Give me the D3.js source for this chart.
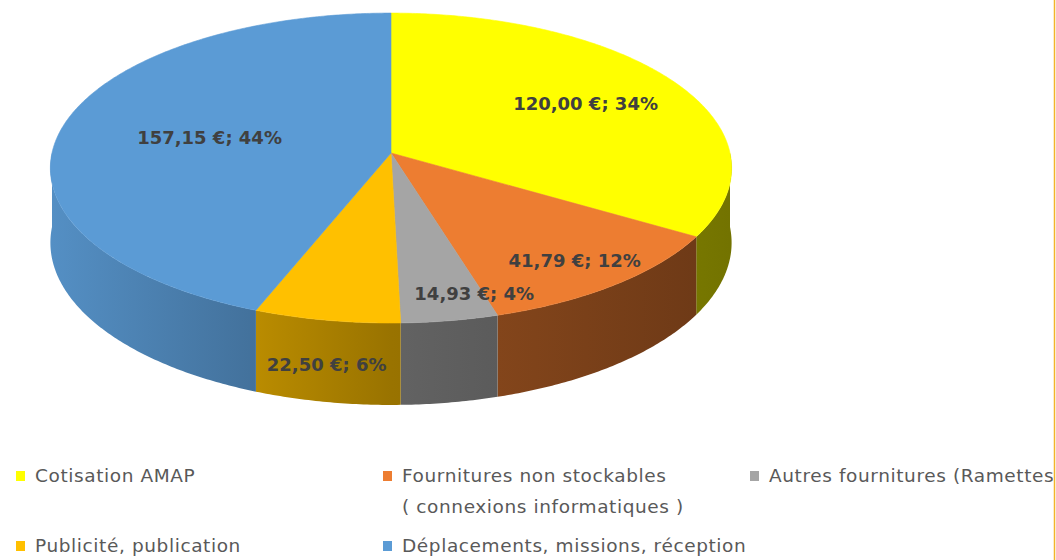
<!DOCTYPE html>
<html>
<head>
<meta charset="utf-8">
<script src="https://cdn.jsdelivr.net/npm/d3@7"></script>
<style>
  html, body { margin: 0; padding: 0; background: #fff; }
  svg { display: block; }
</style>
</head>
<body>
<svg id="chart" width="1056" height="560"></svg>
<script>
// data
const categories = [
  'Cotisation AMAP',
  'Fournitures non stockables\n( connexions informatiques )',
  'Autres fournitures (Ramettes',
  'Publicité, publication',
  'Déplacements, missions, réception'
];
const values = [120.00, 41.79, 14.93, 22.50, 157.15];

// look
const topColors = ['#ffff00', '#ed7d31', '#a5a5a5', '#ffc000', '#5b9bd5'];

// where excel put each label: radius fraction, angle nudge (deg), drop onto the side
const labelPlace = [
  { r: 0.68, da: 0, z: 0 },
  { r: 0.83, da: 0, z: 0 },
  { r: 0.87, da: -6, z: 0 },
  { r: 1.0, da: 0, z: 0.55 },
  { r: 0.55, da: 0, z: 0 }
];

const W = 1056, H = 560;
const cx = 391, cy = 153, rx = 339, ry = 153.5, k = 0.097, depth = 74;

const svg = d3.select('#chart');
const defs = svg.append('defs');

const fr = d3.formatLocale({ decimal: ',', thousands: '\u00a0', grouping: [3], currency: ['', '\u00a0€'] });
const fmtVal = fr.format('$,.2f');
const fmtPct = d3.format('.0%');
const total = d3.sum(values);

const color = d3.scaleOrdinal().domain(categories).range(topColors);
// light from the left: side walls get darker towards the right
const shade = d3.scaleLinear()
  .domain([cx - rx, cx, cx + rx])
  .range([0.92, 0.6, 0.45]);

// a = angle clockwise from 12 o'clock, r = radius fraction, z = drop in px
function proj(a, r, z) {
  const u = Math.sin(a) * r, v = -Math.cos(a) * r;
  const s = 1 / (1 - k * v);
  return [cx + rx * u * s, cy + ry * v * s + (z || 0) * s];
}

function arcPts(a0, a1, z) {
  const n = Math.max(2, Math.ceil((a1 - a0) / 0.01));
  return d3.range(n + 1).map(i => proj(a0 + (a1 - a0) * i / n, 1, z));
}

const line = d3.line();
const slices = d3.pie().sort(null).value(d => d)(values);

slices.forEach((d, i) => {
  const c = d3.rgb(color(categories[i]));
  const g = defs.append('linearGradient')
    .attr('id', 'side' + i)
    .attr('gradientUnits', 'userSpaceOnUse')
    .attr('x1', cx - rx).attr('x2', cx + rx)
    .attr('y1', 0).attr('y2', 0);
  shade.domain().forEach(xv => {
    const f = shade(xv);
    g.append('stop')
      .attr('offset', (xv - cx + rx) / (2 * rx))
      .attr('stop-color', d3.rgb(c.r * f, c.g * f, c.b * f));
  });
});

const pieG = svg.append('g');

// sides (front half only)
slices.forEach((d, i) => {
  const a0 = Math.max(d.startAngle, Math.PI / 2);
  const a1 = Math.min(d.endAngle, 3 * Math.PI / 2);
  if (a1 <= a0) return;
  const pts = arcPts(a0, a1, 0).concat(arcPts(a0, a1, depth).reverse());
  pieG.append('path')
    .attr('d', line(pts) + 'Z')
    .attr('fill', `url(#side${i})`);
});

// tops
slices.forEach((d, i) => {
  const pts = [proj(0, 0)].concat(arcPts(d.startAngle, d.endAngle, 0));
  pieG.append('path')
    .attr('d', line(pts) + 'Z')
    .attr('fill', color(categories[i]))
    .attr('stroke', color(categories[i]))
    .attr('stroke-width', 0.6);
});

// data labels
slices.forEach((d, i) => {
  const p = labelPlace[i];
  const a = (d.startAngle + d.endAngle) / 2 + p.da * Math.PI / 180;
  const [x, y] = proj(a, p.r, p.z * depth);
  pieG.append('text')
    .attr('x', x).attr('y', y)
    .attr('dy', '0.35em')
    .attr('text-anchor', 'middle')
    .attr('font-family', 'DejaVu Sans, sans-serif')
    .attr('font-weight', 'bold')
    .attr('font-size', 18)
    .attr('fill', '#404040')
    .text(`${fmtVal(d.data)}; ${fmtPct(d.data / total)}`);
});

// legend
defs.append('clipPath').attr('id', 'legClip')
  .append('rect').attr('x', 0).attr('y', 0).attr('width', 1053).attr('height', H);

const colX = d3.scalePoint().domain([0, 1, 2]).range([16, 750]);
const rowY = d3.scalePoint().domain([0, 1]).range([476, 546]);
const legend = svg.append('g').attr('clip-path', 'url(#legClip)');

categories.forEach((name, i) => {
  const x = colX(i % 3), y = rowY(Math.floor(i / 3));
  const item = legend.append('g').attr('transform', `translate(${x},${y})`);
  item.append('rect')
    .attr('x', 0).attr('y', -5)
    .attr('width', 9).attr('height', 10)
    .attr('fill', color(name));
  const t = item.append('text')
    .attr('x', 19).attr('y', 0)
    .attr('font-family', 'DejaVu Sans, sans-serif')
    .attr('font-size', 18.5)
    .attr('letter-spacing', 0.6)
    .attr('fill', '#595959');
  name.split('\n').forEach((ln, j) => {
    t.append('tspan')
      .attr('x', 19)
      .attr('dy', j === 0 ? '0.35em' : 31)
      .text(ln);
  });
});

// frame edge on the right
svg.append('line')
  .attr('x1', 1054.5).attr('x2', 1054.5)
  .attr('y1', 0).attr('y2', H)
  .attr('stroke', '#f2b42a')
  .attr('stroke-width', 1.5);
</script>
</body>
</html>
